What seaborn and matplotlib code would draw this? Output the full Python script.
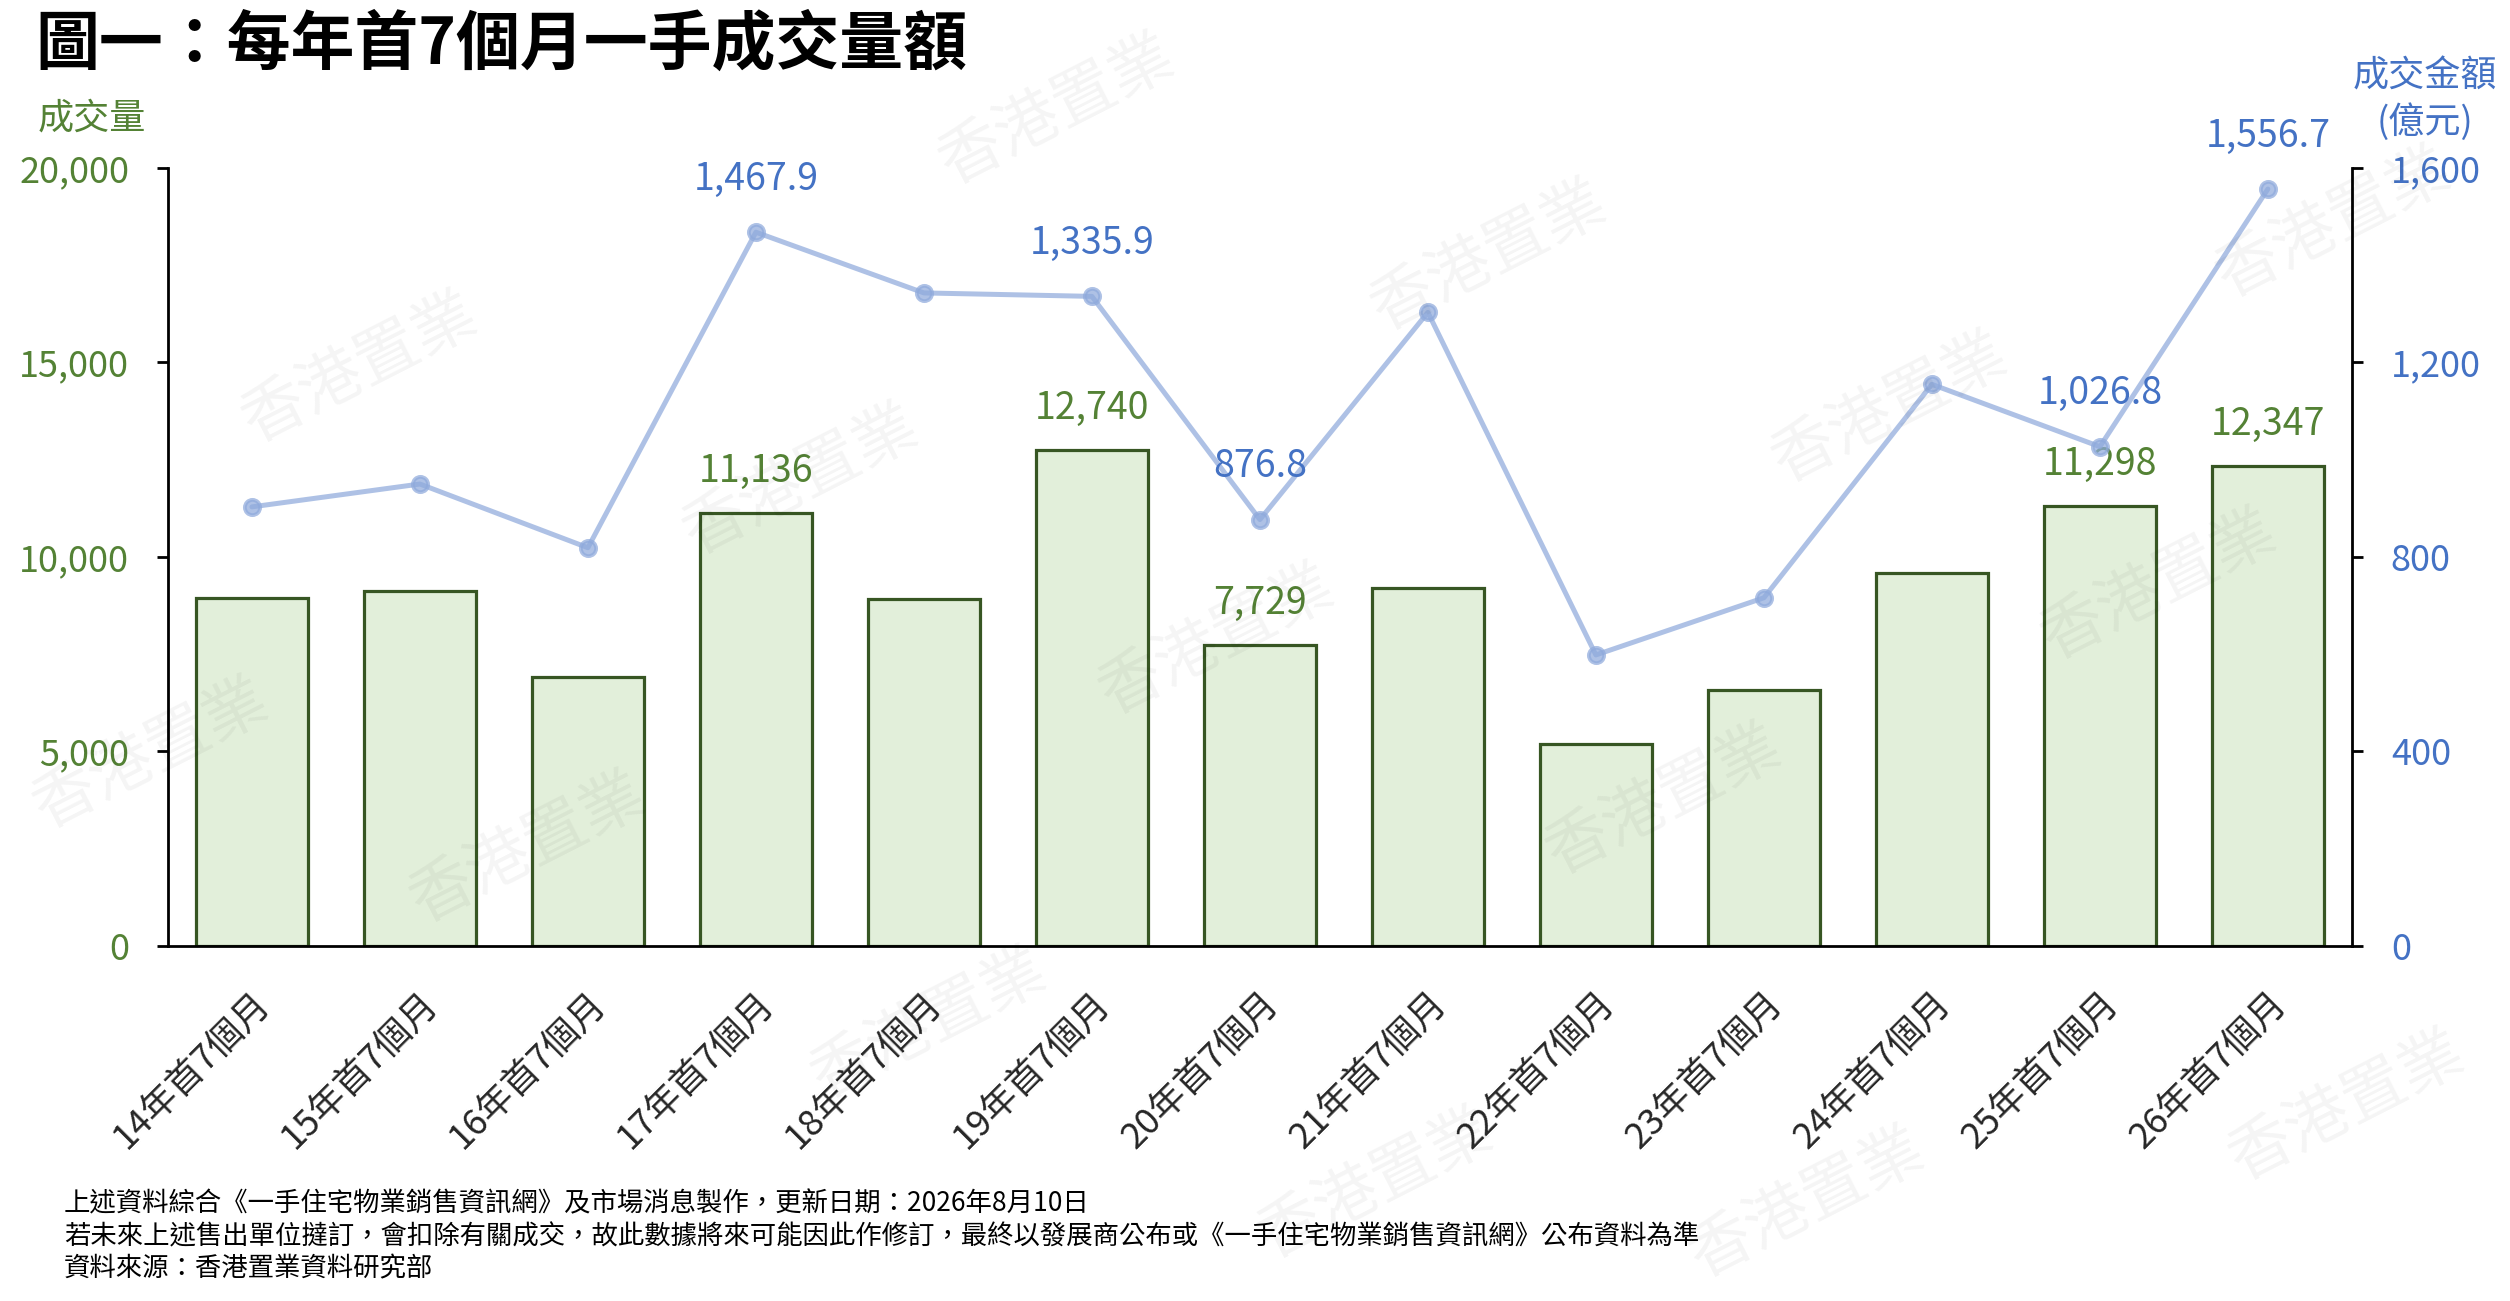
import matplotlib
matplotlib.use('Agg')
import matplotlib.pyplot as plt
import matplotlib.ticker as mticker
import seaborn as sns
import pandas as pd
import numpy as np

# 數據
periods = ['14年首7個月', '15年首7個月', '16年首7個月', '17年首7個月', '18年首7個月',
           '19年首7個月', '20年首7個月', '21年首7個月', '22年首7個月', '23年首7個月',
           '24年首7個月', '25年首7個月', '26年首7個月']
volume = [8950, 9130, 6920, 11136, 8920, 12740, 7729, 9200, 5190, 6580, 9590, 11298, 12347]
amount = [903, 950, 819, 1467.9, 1343, 1335.9, 876.8, 1303, 598.5, 716, 1155, 1026.8, 1556.7]
labelled = ['17年首7個月', '19年首7個月', '20年首7個月', '25年首7個月', '26年首7個月']

left_ticks = [0, 5000, 10000, 15000, 20000]
right_ticks = [0, 400, 800, 1200, 1600]

title = '圖一：每年首7個月一手成交量額'
notes = ['上述資料綜合《一手住宅物業銷售資訊網》及市場消息製作，更新日期：2026年8月10日',
         '若未來上述售出單位撻訂，會扣除有關成交，故此數據將來可能因此作修訂，最終以發展商公布或《一手住宅物業銷售資訊網》公布資料為準',
         '資料來源：香港置業資料研究部']

GREEN = '#548235'
BLUE = '#4472C4'

df = pd.DataFrame({'period': periods, 'volume': volume, 'amount': amount})

sns.set_theme(style='white')
plt.rcParams['font.family'] = ['Noto Sans CJK TC', 'DejaVu Sans']

fig = plt.figure(figsize=(25.1, 13.01), dpi=100)
ax = fig.add_axes([0.0669, 0.2729, 0.8701, 0.598])

sns.barplot(data=df, x='period', y='volume', color='#E2EFDA', edgecolor='#375623',
            linewidth=2.3, width=0.67, saturation=1, ax=ax)

ax2 = ax.twinx()
sns.pointplot(data=df, x='period', y='amount', color='#8FAADC', markers='o',
              linestyles='-', errorbar=None, linewidth=3.6, markersize=11,
              alpha=0.72, ax=ax2)

# 軸設定
ax.set_xlim(-0.5, len(periods) - 0.5)
ax.set_ylim(0, 20000)
ax2.set_ylim(0, 1600)
ax.set_yticks(left_ticks)
ax2.set_yticks(right_ticks)
ax.yaxis.set_major_formatter(mticker.StrMethodFormatter('{x:,.0f}'))
ax2.yaxis.set_major_formatter(mticker.StrMethodFormatter('{x:,.0f}'))
ax.set_xticks(range(len(periods)))
ax.set_xticklabels(periods, rotation=45, ha='right', rotation_mode='anchor', fontsize=26)
ax.set_xticks(np.arange(-0.5, len(periods), 1), minor=True)
ax.tick_params(axis='x', which='major', length=0, pad=28)
ax.tick_params(axis='x', which='minor', direction='inout', length=18, width=2, color='black')
ax.tick_params(axis='y', direction='out', length=8, width=2, color='black',
               labelsize=26, labelcolor=GREEN, pad=20, left=True)
ax2.tick_params(axis='y', direction='out', length=8, width=2, color='black',
                labelsize=26, labelcolor=BLUE, pad=20, right=True)
for a in (ax, ax2):
    a.set_xlabel('')
    a.set_ylabel('')
    a.spines['top'].set_visible(False)
    for s in ('left', 'right', 'bottom'):
        a.spines[s].set_color('black')
        a.spines[s].set_linewidth(2)
ax.spines['right'].set_visible(False)
ax2.spines['left'].set_visible(False)
ax2.spines['bottom'].set_visible(False)

# 數據標籤
for i, (p, v, m) in enumerate(zip(periods, volume, amount)):
    if p in labelled:
        ax.annotate(f'{v:,}', xy=(i, v), xytext=(0, 30), textcoords='offset points',
                    ha='center', va='center', fontsize=27, color=GREEN)
        ax2.annotate(f'{m:,.1f}', xy=(i, m), xytext=(0, 38), textcoords='offset points',
                     ha='center', va='center', fontsize=27, color=BLUE)

# 標題及軸名
fig.text(0.014, 0.9656, title, fontsize=46, fontweight='bold', color='black', va='center', ha='left')
fig.text(0.0367, 0.909, '成交量', fontsize=26, color=GREEN, ha='center', va='center')
fig.text(0.9662, 0.941, '成交金額', fontsize=26, color=BLUE, ha='center', va='center')
fig.text(0.9662, 0.9065, '(億元)', fontsize=26, color=BLUE, ha='center', va='center')

for y, line in zip([0.075, 0.049, 0.0246], notes):
    fig.text(0.0255, y, line, fontsize=19, color='black', ha='left', va='center')

# 水印
marks = [(0.421, 0.915), (0.1435, 0.717), (0.319, 0.631), (0.593, 0.803), (0.753, 0.686),
         (0.93, 0.828), (0.485, 0.508), (0.663, 0.385), (0.2105, 0.348), (0.37, 0.213),
         (0.548, 0.09), (0.72, 0.075), (0.935, 0.15), (0.06, 0.42), (0.86, 0.55)]
for mx, my in marks:
    fig.text(mx, my, '香港置業', fontsize=46, rotation=27, color='#000000', alpha=0.045,
             ha='center', va='center', zorder=0)

fig.savefig('out.png', dpi=100)
